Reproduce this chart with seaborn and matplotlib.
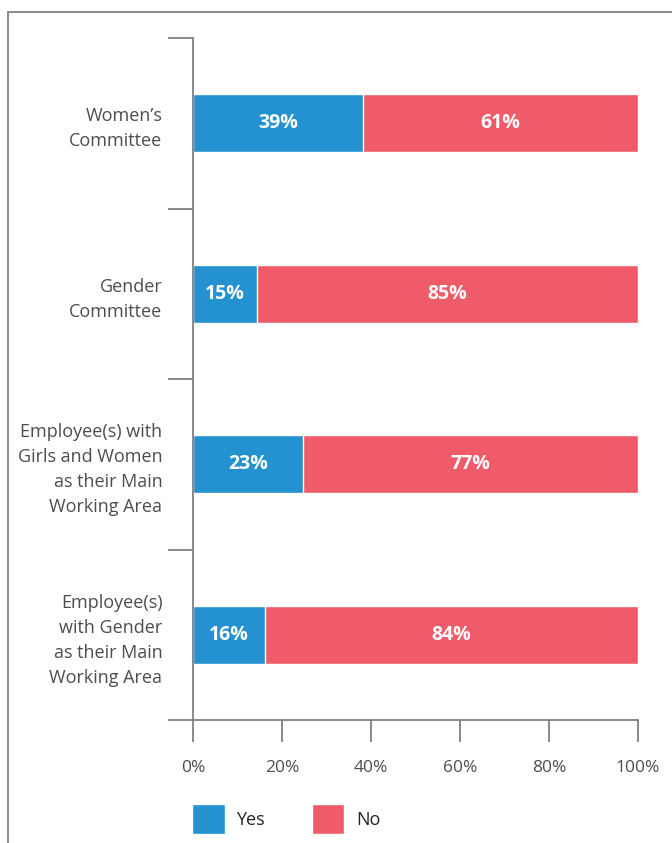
import numpy as np
import pandas as pd
import matplotlib.pyplot as plt
import seaborn as sns
from matplotlib.patches import Patch
from matplotlib.lines import Line2D

# --- Data ---
categories = ["Women\u2019s\nCommittee",
              "Gender\nCommittee",
              "Employee(s) with\nGirls and Women\nas their Main\nWorking Area",
              "Employee(s)\nwith Gender\nas their Main\nWorking Area"]
yes_share = [38.2, 14.4, 24.7, 16.2]
no_share = [61.8, 85.6, 75.3, 83.8]
yes_labels = ["39%", "15%", "23%", "16%"]
no_labels = ["61%", "85%", "77%", "84%"]
x_ticks = [0, 20, 40, 60, 80, 100]
x_tick_labels = ["0%", "20%", "40%", "60%", "80%", "100%"]

blue = "#2492d1"
red = "#f05b69"
grey_text = "#4d4d4d"
axis_grey = "#808080"

df = pd.DataFrame({"category": categories, "yes": yes_share, "no": no_share})
df["total"] = df["yes"] + df["no"]

sns.set_style("white")
plt.rcParams["font.family"] = ["Open Sans", "DejaVu Sans"]

fig = plt.figure(figsize=(6.72, 8.43), dpi=100)
W, H = 672, 843
ax = fig.add_axes([193 / W, (H - 720) / H, (638 - 193) / W, (720 - 38) / H])

# stacked: full bar in red, yes part in blue on top
sns.barplot(data=df, x="total", y="category", orient="h", color=red,
            width=0.34, saturation=1, ax=ax)
sns.barplot(data=df, x="yes", y="category", orient="h", color=blue,
            width=0.34, saturation=1, ax=ax)

# value labels
for i, (y, n) in enumerate(zip(yes_share, no_share)):
    ax.text(y / 2, i, yes_labels[i], ha="center", va="center",
            color="white", fontsize=14, fontweight="bold")
    ax.text(y + n / 2, i, no_labels[i], ha="center", va="center",
            color="white", fontsize=14, fontweight="bold")

ax.set_xlim(0, 100)
ax.set_ylim(3.5, -0.5)
ax.set_xlabel("")
ax.set_ylabel("")

ax.set_xticks(x_ticks)
ax.set_xticklabels(x_tick_labels, fontsize=12.5, color=grey_text)
ax.tick_params(axis="x", direction="out", length=16, width=1.3,
               color=axis_grey, pad=13, bottom=True)

ax.set_yticks(range(len(categories)))
ax.set_yticklabels(categories, fontsize=13, color=grey_text,
                   linespacing=1.5, ha="right")
ax.tick_params(axis="y", which="major", length=0, pad=22)
ax.set_yticks(np.arange(-0.5, len(categories)), minor=True)
ax.tick_params(axis="y", which="minor", direction="out", length=18,
               width=1.3, color=axis_grey, left=True)

for side in ["top", "right"]:
    ax.spines[side].set_visible(False)
for side in ["left", "bottom"]:
    ax.spines[side].set_color(axis_grey)
    ax.spines[side].set_linewidth(1.3)

# legend
handles = [Patch(facecolor=blue, label="Yes"), Patch(facecolor=red, label="No")]
fig.legend(handles=handles, loc="upper left",
           bbox_to_anchor=(192 / W, 1 - 804 / H), ncol=2, frameon=False,
           fontsize=13, handlelength=1.8, handleheight=2.2,
           handletextpad=0.65, columnspacing=2.6, borderpad=0,
           borderaxespad=0, labelcolor="#222222")

# outer frame lines (top and left)
fig.add_artist(Line2D([8 / W, 8 / W], [0, 1 - 12 / H], color=axis_grey, lw=1.3))
fig.add_artist(Line2D([8 / W, 1], [1 - 12 / H, 1 - 12 / H], color=axis_grey, lw=1.3))

fig.savefig("out.png", dpi=100)
